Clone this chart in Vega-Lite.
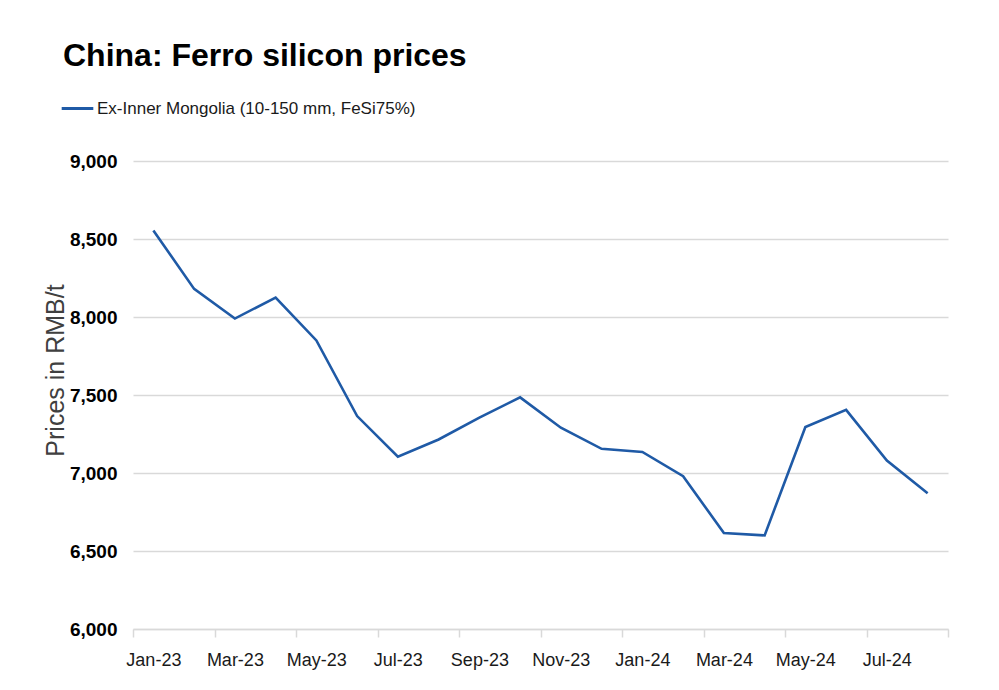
{
  "$schema": "https://vega.github.io/schema/vega-lite/v6.json",
  "width": 815,
  "height": 468,
  "autosize": {"type": "none"},
  "padding": {"left": 133, "top": 161, "right": 51, "bottom": 61},
  "background": "white",
  "config": {"view": {"stroke": null}},
  "title": {
    "text": "China: Ferro silicon prices",
    "anchor": "start",
    "frame": "group",
    "dx": -70,
    "offset": -7,
    "baseline": "alphabetic",
    "font": "Liberation Sans",
    "fontSize": 32,
    "fontWeight": "bold",
    "color": "#000000"
  },
  "data": {
    "values": [
      {"month": "Jan-23", "price": 8555, "series": "Ex-Inner Mongolia (10-150 mm, FeSi75%)"},
      {"month": "Feb-23", "price": 8180, "series": "Ex-Inner Mongolia (10-150 mm, FeSi75%)"},
      {"month": "Mar-23", "price": 7990, "series": "Ex-Inner Mongolia (10-150 mm, FeSi75%)"},
      {"month": "Apr-23", "price": 8125, "series": "Ex-Inner Mongolia (10-150 mm, FeSi75%)"},
      {"month": "May-23", "price": 7850, "series": "Ex-Inner Mongolia (10-150 mm, FeSi75%)"},
      {"month": "Jun-23", "price": 7365, "series": "Ex-Inner Mongolia (10-150 mm, FeSi75%)"},
      {"month": "Jul-23", "price": 7105, "series": "Ex-Inner Mongolia (10-150 mm, FeSi75%)"},
      {"month": "Aug-23", "price": 7215, "series": "Ex-Inner Mongolia (10-150 mm, FeSi75%)"},
      {"month": "Sep-23", "price": 7355, "series": "Ex-Inner Mongolia (10-150 mm, FeSi75%)"},
      {"month": "Oct-23", "price": 7485, "series": "Ex-Inner Mongolia (10-150 mm, FeSi75%)"},
      {"month": "Nov-23", "price": 7290, "series": "Ex-Inner Mongolia (10-150 mm, FeSi75%)"},
      {"month": "Dec-23", "price": 7155, "series": "Ex-Inner Mongolia (10-150 mm, FeSi75%)"},
      {"month": "Jan-24", "price": 7135, "series": "Ex-Inner Mongolia (10-150 mm, FeSi75%)"},
      {"month": "Feb-24", "price": 6980, "series": "Ex-Inner Mongolia (10-150 mm, FeSi75%)"},
      {"month": "Mar-24", "price": 6615, "series": "Ex-Inner Mongolia (10-150 mm, FeSi75%)"},
      {"month": "Apr-24", "price": 6600, "series": "Ex-Inner Mongolia (10-150 mm, FeSi75%)"},
      {"month": "May-24", "price": 7295, "series": "Ex-Inner Mongolia (10-150 mm, FeSi75%)"},
      {"month": "Jun-24", "price": 7405, "series": "Ex-Inner Mongolia (10-150 mm, FeSi75%)"},
      {"month": "Jul-24", "price": 7080, "series": "Ex-Inner Mongolia (10-150 mm, FeSi75%)"},
      {"month": "Aug-24", "price": 6870, "series": "Ex-Inner Mongolia (10-150 mm, FeSi75%)"}
    ]
  },
  "mark": {"type": "line", "strokeWidth": 2.6, "interpolate": "linear"},
  "encoding": {
    "x": {
      "field": "month",
      "type": "ordinal",
      "sort": null,
      "scale": {"type": "band", "paddingInner": 0, "paddingOuter": 0},
      "axis": {
        "title": null,
        "values": ["Jan-23", "Feb-23", "Apr-23", "Jun-23", "Aug-23", "Oct-23", "Dec-23", "Feb-24", "Apr-24", "Jun-24", "Aug-24"],
        "labelExpr": "isValid(datum.value) && datum.value != 'Jan-23' ? replace(replace(replace(replace(replace(replace(datum.value, 'Feb', 'Jan'), 'Apr', 'Mar'), 'Jun', 'May'), 'Aug', 'Jul'), 'Oct', 'Sep'), 'Dec', 'Nov') : ''",
        "labelOffset": -40.75,
        "tickBand": "extent",
        "tickOpacity": {"condition": {"test": "datum.value == 'Jan-23'", "value": 0}, "value": 1},
        "labelAngle": 0,
        "labelFont": "Liberation Sans",
        "labelFontSize": 18,
        "labelColor": "#1a1a1a",
        "labelPadding": 14,
        "labelOverlap": false,
        "tickColor": "#d9d9d9",
        "tickSize": 8,
        "tickWidth": 1.5,
        "domainColor": "#d9d9d9",
        "domainWidth": 1.5,
        "grid": false
      }
    },
    "y": {
      "field": "price",
      "type": "quantitative",
      "scale": {"domain": [6000, 9000], "nice": false, "zero": false},
      "axis": {
        "values": [6000, 6500, 7000, 7500, 8000, 8500, 9000],
        "format": ",d",
        "title": "Prices in RMB/t",
        "titleFont": "Liberation Sans",
        "titleFontSize": 25,
        "titleFontWeight": "normal",
        "titleColor": "#404040",
        "titleX": -70,
        "titleY": 209,
        "titleAngle": -90,
        "titleAlign": "center",
        "titleBaseline": "alphabetic",
        "labelFont": "Liberation Sans",
        "labelFontSize": 19,
        "labelFontWeight": "bold",
        "labelColor": "#000000",
        "labelPadding": 16,
        "ticks": false,
        "domain": false,
        "grid": true,
        "gridColor": "#d9d9d9",
        "gridWidth": 1.5
      }
    },
    "color": {
      "field": "series",
      "type": "nominal",
      "scale": {"range": ["#1f5aa6"]},
      "legend": {
        "title": null,
        "orient": "none",
        "legendX": -73,
        "legendY": -70,
        "symbolType": "stroke",
        "symbolSize": 1000,
        "symbolStrokeWidth": 3,
        "labelFont": "Liberation Sans",
        "labelFontSize": 17,
        "labelColor": "#1a1a1a",
        "labelOffset": 2,
        "labelLimit": 0,
        "padding": 0
      }
    }
  }
}
